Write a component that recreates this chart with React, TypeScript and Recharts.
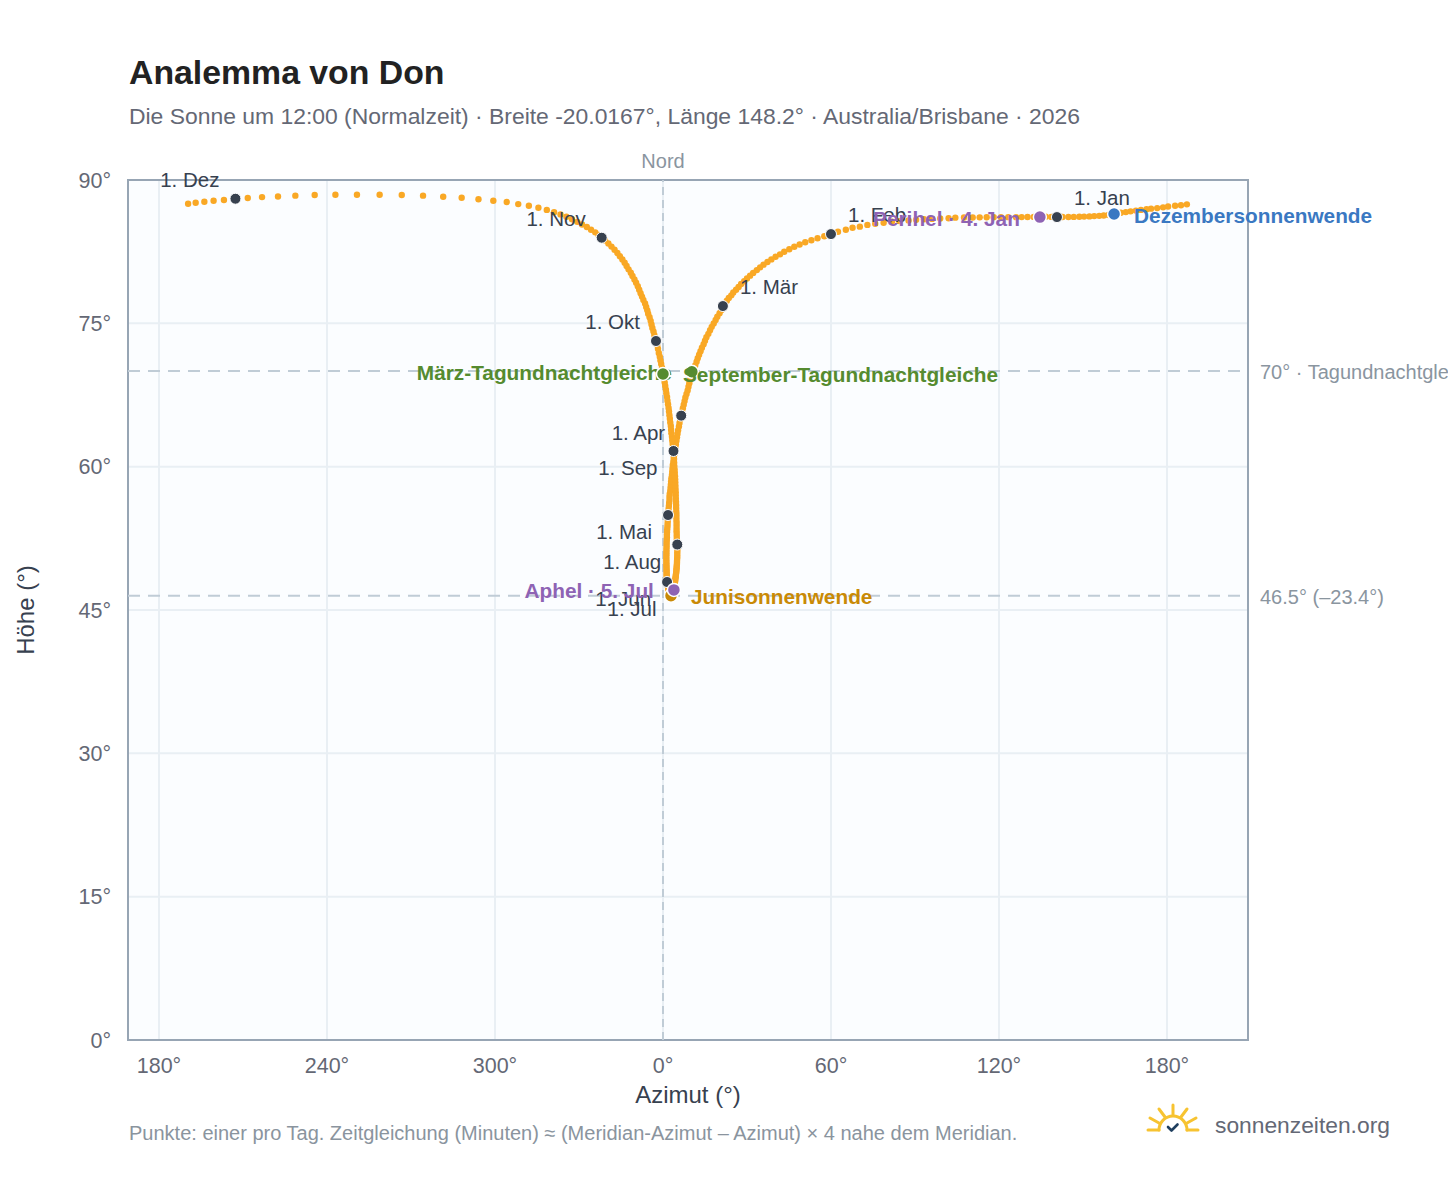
import { CartesianGrid, ReferenceArea, ReferenceLine, Scatter, ScatterChart, XAxis, YAxis } from 'recharts';

const FONT = '"Liberation Sans", Arial, sans-serif';

const xTicks = [-180, -120, -60, 0, 60, 120, 180];
const yTicks = [0, 15, 30, 45, 60, 75, 90];
const xMin = -191.07;
const xMax = 208.93;

// one point per day, 1 Jan to 31 Dec; azimuth folded around north, altitude in degrees
const dailyAzimuth = [
  140.7, 138.7, 136.7, 134.5, 132.4, 130.2, 128.1, 126.1, 123.3, 120.7, 118.1, 115.6, 113.1, 110.6, 107.5, 104.4,
  102, 99, 96.1, 93.2, 90.4, 87.7, 84.4, 81.8, 78.8, 75.8, 73, 70.3, 67.7, 65.3, 62.5,
  60, 57.6, 55.2, 53, 50.8, 48.8, 46.9, 45.1, 43.3, 41.8, 40.2, 38.7, 37.3, 35.9, 34.7, 33.5, 32.2, 31.1, 30, 29, 27.9,
  27, 26.1, 25.1, 24.4, 23.5, 22.8, 22.1,
  21.4, 20.9, 20.2, 19.4, 18.8, 18.1, 17.4, 16.8, 16.2, 15.5, 15, 14.5, 13.9, 13.4, 12.9, 12.4, 12, 11.5, 11, 10.3,
  10, 9.7, 9.4, 9.1, 8.8, 8.4, 8, 7.7, 7.4, 7.1, 6.8,
  6.5, 6.2, 5.9, 5.7, 5.4, 5.2, 5, 4.8, 4.6, 4.4, 4.2, 4, 3.9, 3.7, 3.5, 3.4, 3.3, 3.2, 3, 2.9, 2.8, 2.7, 2.6, 2.4, 2.3,
  2.3, 2.2, 2.1, 2, 1.9,
  1.8, 1.75, 1.7, 1.64, 1.6, 1.5, 1.46, 1.4, 1.4, 1.35, 1.3, 1.3, 1.27, 1.24, 1.23, 1.23, 1.2, 1.2, 1.22, 1.22, 1.25,
  1.25, 1.27, 1.28, 1.3, 1.3, 1.32, 1.33, 1.35, 1.37, 1.4,
  1.45, 1.6, 1.68, 1.74, 1.8, 1.86, 1.93, 2, 2.05, 2.1, 2.17, 2.23, 2.3, 2.36, 2.42, 2.48, 2.54, 2.6, 2.66, 2.72, 2.86,
  2.88, 2.92, 2.97, 3.03, 3.09, 3.15, 3.2, 3.27, 3.33,
  3.4, 3.45, 3.55, 3.65, 3.75, 3.8, 3.9, 4, 4.05, 4.15, 4.2, 4.3, 4.35, 4.4, 4.5, 4.55, 4.6, 4.7, 4.75, 4.8, 4.85, 4.9,
  4.95, 5, 5, 5.05, 5.1, 5.1, 5.1, 5.15, 5.15,
  5.1, 5, 4.95, 4.9, 4.9, 4.85, 4.85, 4.85, 4.85, 4.8, 4.8, 4.8, 4.75, 4.7, 4.7, 4.65, 4.6, 4.55, 4.55, 4.5, 4.45, 4.4,
  4.35, 4.3, 4.2, 4.15, 4.05, 3.98, 3.92, 3.85, 3.8,
  3.75, 3.55, 3.45, 3.3, 3.2, 3, 2.9, 2.8, 2.6, 2.45, 2.3, 2.15, 2, 1.8, 1.6, 1.45, 1.2, 1.05, 0.8, 0.6, 0.35, 0.05,
  -0.15, -0.35, -0.65, -0.9, -1.15, -1.5, -1.8, -2.05,
  -2.5, -2.8, -3.1, -3.4, -3.8, -4.1, -4.4, -4.8, -5.3, -5.6, -6, -6.4, -7, -7.5, -8, -8.5, -9, -9.6, -10.2, -10.9,
  -11.5, -12.3, -13, -13.7, -14.5, -15.4, -16.3, -17.3, -18.4, -19.5, -20.7,
  -21.9, -23, -24.2, -25.7, -27.2, -28.9, -30.6, -32.5, -34.5, -36.6, -38.9, -41.5, -44.5, -47.9, -51.7, -55.8, -60.6,
  -65.9, -71.9, -78.5, -85.7, -93.3, -101.2, -109.3, -117, -124.4, -131.3, -137.5, -143.2, -148.3,
  -152.7, -156.8, -160.5, -163.8, -166.9, -169.6, 187.1, 185, 182.9, 180.4, 178.6, 176.5, 174.3, 172.7, 170.7, 168.9,
  167, 165.3, 163.5, 162, 161.1, 159.1, 157.4, 155.8, 154, 152.3, 150.4, 148.7, 146.7, 144.8, 142.7,
];

const dailyAltitude = [
  86.12, 86.14, 86.15, 86.13, 86.14, 86.13, 86.12, 86.11, 86.11, 86.1, 86.1, 86.1, 86.09, 86.07, 86.07, 86.06,
  86, 85.97, 85.93, 85.9, 85.84, 85.77, 85.7, 85.64, 85.52, 85.42, 85.3, 85.12, 85, 84.8, 84.58,
  84.34, 84.12, 83.91, 83.7, 83.48, 83.25, 83.01, 82.75, 82.49, 82.22, 81.97, 81.69, 81.42, 81.14, 80.86, 80.57, 80.28,
  79.99, 79.7, 79.41, 79.11, 78.81, 78.51, 78.22, 77.93, 77.65, 77.36, 77.08,
  76.81, 76.4, 76.05, 75.7, 75.35, 74.99, 74.63, 74.27, 73.9, 73.55, 73.19, 72.82, 72.45, 72.09, 71.72, 71.34, 70.98,
  70.6, 70.23, 69.93, 69.48, 69.11, 68.73, 68.36, 67.98, 67.61, 67.24, 66.86, 66.48, 66.11, 65.73,
  65.34, 64.96, 64.58, 64.2, 63.82, 63.45, 63.07, 62.7, 62.33, 61.96, 61.6, 61.24, 60.88, 60.52, 60.17, 59.82, 59.47,
  59.13, 58.79, 58.45, 58.12, 57.79, 57.46, 57.14, 56.82, 56.5, 56.19, 55.88, 55.58, 55.26,
  54.94, 54.63, 54.33, 54.03, 53.74, 53.45, 53.16, 52.88, 52.6, 52.33, 52.06, 51.8, 51.54, 51.29, 51.04, 50.8, 50.57,
  50.34, 50.12, 49.9, 49.69, 49.49, 49.29, 49.1, 48.92, 48.74, 48.57, 48.41, 48.26, 48.11, 48,
  47.93, 47.78, 47.65, 47.52, 47.4, 47.29, 47.19, 47.09, 47, 46.92, 46.85, 46.78, 46.72, 46.67, 46.63, 46.6, 46.58,
  46.56, 46.55, 46.55, 46.5, 46.55, 46.56, 46.58, 46.6, 46.63, 46.67, 46.71, 46.76, 46.82,
  46.88, 46.95, 47.02, 47.08, 47.1, 47.26, 47.36, 47.47, 47.58, 47.7, 47.83, 47.96, 48.1, 48.24, 48.39, 48.54, 48.7,
  48.86, 49.03, 49.2, 49.38, 49.56, 49.75, 49.94, 50.14, 50.34, 50.55, 50.78, 51.05, 51.3, 51.55,
  51.85, 52.12, 52.39, 52.67, 52.95, 53.24, 53.53, 53.83, 54.13, 54.43, 54.74, 55.05, 55.36, 55.68, 56, 56.32, 56.65,
  56.98, 57.31, 57.65, 57.99, 58.33, 58.67, 59.01, 59.36, 59.71, 60.06, 60.41, 60.76, 61.05, 61.35,
  61.64, 62, 62.38, 62.75, 63.12, 63.5, 63.87, 64.25, 64.63, 65.01, 65.39, 65.77, 66.15, 66.53, 66.91, 67.3, 67.68,
  68.06, 68.44, 68.82, 69.2, 69.7, 69.98, 70.36, 70.74, 71.12, 71.5, 71.89, 72.35, 72.73,
  73.15, 73.45, 73.78, 74.15, 74.52, 74.89, 75.26, 75.63, 76, 76.36, 76.72, 77.08, 77.44, 77.8, 78.16, 78.52, 78.88,
  79.24, 79.6, 79.95, 80.3, 80.65, 81, 81.34, 81.68, 82.02, 82.36, 82.7, 83.03, 83.36, 83.68,
  83.96, 84.24, 84.52, 84.8, 85.08, 85.35, 85.62, 85.9, 86.15, 86.4, 86.63, 86.87, 87.1, 87.31, 87.48, 87.69, 87.83,
  87.99, 88.14, 88.25, 88.36, 88.43, 88.46, 88.46, 88.46, 88.43, 88.36, 88.28, 88.21, 88.11,
  88.04, 87.9, 87.83, 87.73, 87.62, 87.52, 87.45, 87.36, 87.3, 87.22, 87.14, 87.06, 87, 86.94, 86.87, 86.8,
  86.72, 86.64, 86.58, 86.51, 86.44, 86.33, 86.28, 86.25, 86.22, 86.19, 86.17, 86.15, 86.14, 86.13, 86.13,
];

const monthLabels = ['1. Jan', '1. Feb', '1. Mär', '1. Apr', '1. Mai', '1. Jun', '1. Jul', '1. Aug', '1. Sep', '1. Okt', '1. Nov', '1. Dez'];
const monthAzimuth = [140.7, 60, 21.4, 6.5, 1.8, 1.45, 3.4, 5.1, 3.75, -2.5, -21.9, -152.7];
const monthAltitude = [86.12, 84.34, 76.81, 65.34, 54.94, 47.93, 46.88, 51.85, 61.64, 73.15, 83.96, 88.04];

const eventLabels = ['März-Tagundnachtgleiche', 'Junisonnenwende', 'September-Tagundnachtgleiche', 'Dezembersonnenwende', 'Perihel · 4. Jan', 'Aphel · 5. Jul'];
const eventAzimuth = [10.3, 2.86, 0, 161.1, 134.6, 3.9];
const eventAltitude = [69.93, 46.5, 69.7, 86.44, 86.12, 47.1];
const eventColors = ['#558b2f', '#c98a06', '#558b2f', '#3a78c2', '#8e63b4', '#8e63b4'];
const eventLeft = [true, false, false, false, true, true];

const dailyPoints = dailyAzimuth.map((az, i) => ({ az, alt: dailyAltitude[i] }));
const monthPoints = monthLabels.map((label, i) => ({ label, az: monthAzimuth[i], alt: monthAltitude[i], index: i }));

function DayDot({ cx, cy }: any) {
  return <circle cx={cx} cy={cy} r={3.2} fill="#f9a825" />;
}

function MonthDot({ cx, cy, payload }: any) {
  // Jan-Mar sit up right, Apr-Sep down left, Oct-Dec up left
  const m = payload.index;
  const right = m < 3;
  const below = m >= 3 && m <= 8;
  return (
    <g>
      <circle cx={cx} cy={cy} r={5.5} fill="#37414f" stroke="#fff" strokeWidth={1} />
      <text
        x={right ? cx + 17 : cx - 16}
        y={below ? cy + 24 : cy - 12}
        textAnchor={right ? 'start' : 'end'}
        fontSize={20.5}
        fontFamily={FONT}
        fill="#37414f"
      >
        {payload.label}
      </text>
    </g>
  );
}

function eventDot(i: number) {
  return ({ cx, cy }: any) => (
    <g>
      <circle cx={cx} cy={cy} r={6.5} fill={eventColors[i]} stroke="#fff" strokeWidth={1.5} />
      <text
        x={eventLeft[i] ? cx - 20 : cx + 20}
        y={cy + 8.5}
        textAnchor={eventLeft[i] ? 'end' : 'start'}
        fontSize={20.8}
        fontWeight="bold"
        fontFamily={FONT}
        fill={eventColors[i]}
      >
        {eventLabels[i]}
      </text>
    </g>
  );
}

function SunLogo() {
  return (
    <svg width={56} height={34} style={{ position: 'absolute', left: 1145, top: 1103 }} fill="none">
      <g stroke="#f7c331" strokeWidth={3} strokeLinecap="round">
        <path d="M14 27a14 14 0 0 1 28 0" />
        <path d="M3 27h11M42 27h11M5 15l9 5M51 15l-9 5M14 6l6 8M42 6l-6 8M28 2v10" />
      </g>
      <path d="M23 24l3.5 3.5 6-6" stroke="#1f3f5f" strokeWidth={2.6} strokeLinecap="round" strokeLinejoin="round" />
    </svg>
  );
}

const abs = (top: number, left: number, size: number, color: string, extra?: object) => ({
  position: 'absolute' as const,
  top,
  left,
  fontSize: size,
  color,
  fontFamily: FONT,
  whiteSpace: 'nowrap' as const,
  lineHeight: 1,
  ...extra,
});

export default function App() {
  return (
    <div style={{ position: 'absolute', left: 0, top: 0, width: 1448, height: 1188, background: '#fff', overflow: 'hidden' }}>
      <div style={abs(56, 129, 33.8, '#222', { fontWeight: 'bold' })}>Analemma von Don</div>
      <div style={abs(105, 129, 22.9, '#646875')}>
        Die Sonne um 12:00 (Normalzeit) · Breite -20.0167°, Länge 148.2° · Australia/Brisbane · 2026
      </div>
      <ScatterChart width={1448} height={1188} margin={{ top: 180, right: 200, bottom: 88, left: 68 }}>
        <CartesianGrid fill="#fbfdff" stroke="#e9eff4" strokeWidth={2} />
        <XAxis
          type="number"
          dataKey="az"
          domain={[xMin, xMax]}
          ticks={xTicks}
          interval={0}
          height={60}
          tickLine={false}
          axisLine={false}
          tickMargin={12}
          tick={{ fill: '#646875', fontSize: 21.5, fontFamily: FONT }}
          tickFormatter={(v: number) => `${v < 0 ? v + 360 : v}°`}
          label={{ value: 'Azimut (°)', position: 'insideBottom', offset: -3, fill: '#37414f', fontSize: 24, fontFamily: FONT }}
        />
        <YAxis
          type="number"
          dataKey="alt"
          domain={[0, 90]}
          ticks={yTicks}
          interval={0}
          width={60}
          tickLine={false}
          axisLine={false}
          tickMargin={11}
          tick={{ fill: '#646875', fontSize: 21.5, fontFamily: FONT }}
          tickFormatter={(v: number) => `${v}°`}
        />
        <ReferenceArea x1={xMin} x2={xMax} y1={0} y2={90} fill="none" stroke="#97a5b4" strokeWidth={2} ifOverflow="visible" />
        <ReferenceLine
          x={0}
          stroke="#c0ccd6"
          strokeWidth={2}
          strokeDasharray="8 5"
          label={{ value: 'Nord', position: 'top', offset: 12, fill: '#8a959f', fontSize: 20, fontFamily: FONT }}
        />
        <ReferenceLine
          y={70}
          stroke="#c0ccd6"
          strokeWidth={2}
          strokeDasharray="12 8"
          label={{ value: '70° · Tagundnachtgleiche', position: 'right', offset: 12, dy: 1, fill: '#8a959f', fontSize: 20, fontFamily: FONT }}
        />
        <ReferenceLine
          y={46.5}
          stroke="#c0ccd6"
          strokeWidth={2}
          strokeDasharray="12 8"
          label={{ value: '46.5° (–23.4°)', position: 'right', offset: 12, dy: 1, fill: '#8a959f', fontSize: 20, fontFamily: FONT }}
        />
        <Scatter data={dailyPoints} shape={DayDot} isAnimationActive={false} />
        <Scatter data={monthPoints} shape={MonthDot} isAnimationActive={false} />
        {eventLabels.map((label, i) => (
          <Scatter
            key={label}
            data={[{ az: eventAzimuth[i], alt: eventAltitude[i] }]}
            shape={eventDot(i)}
            isAnimationActive={false}
          />
        ))}
      </ScatterChart>
      <div style={abs(610, 26, 24, '#37414f', { transform: 'translate(-50%,-50%) rotate(-90deg)' })}>Höhe (°)</div>
      <div style={abs(1123, 129, 20, '#8a949e')}>
        Punkte: einer pro Tag. Zeitgleichung (Minuten) ≈ (Meridian-Azimut – Azimut) × 4 nahe dem Meridian.
      </div>
      <SunLogo />
      <div style={abs(1114, 1215, 22.8, '#646875')}>sonnenzeiten.org</div>
    </div>
  );
}
